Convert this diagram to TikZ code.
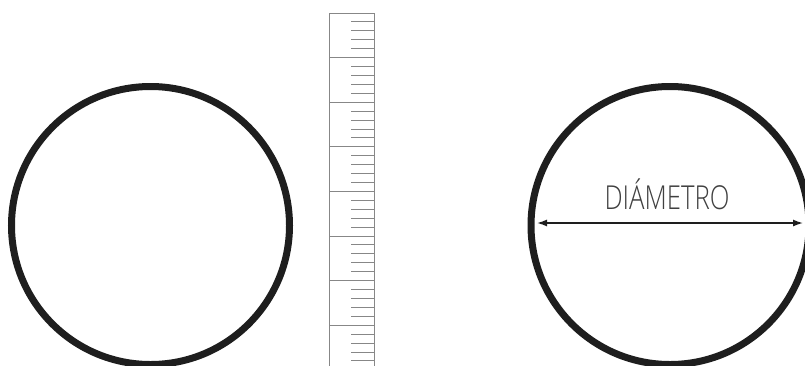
\documentclass[tikz,border=0pt]{standalone}
\usepackage{fontspec}
\newfontfamily\labelfont{Open Sans}[UprightFont=* Light]
\usepackage{tikz}
\usetikzlibrary{arrows.meta,positioning,calc}
\definecolor{rulergrey}{RGB}{135,135,135}
\definecolor{ringblack}{RGB}{30,30,30}

\begin{document}
\begin{tikzpicture}[x=1pt, y=-1pt,
    ring/.style={circle, draw=ringblack, line width=7pt, minimum size=278pt,
                 inner sep=0pt, outer sep=0pt},
    rulerline/.style={draw=rulergrey, line width=0.9pt},
    dimarr/.style={{Latex[length=10pt,width=7pt]}-{Latex[length=10pt,width=7pt]},
                   line width=1.4pt, draw=ringblack},
    lbl/.style={font=\labelfont\fontsize{33}{36}\selectfont, text=black!75,
                inner sep=0pt, anchor=base}
]
    \useasboundingbox (0,0) rectangle (805,365);
    \clip (0,0) rectangle (805,365);

    % the two rings
    \node[ring] (ringL) at (150.5,225.5) {};
    \node[ring] (ringR) at (670,225.5) {};

    % ruler
    \coordinate (rulTL) at (329,13);
    \coordinate (rulBR) at (374,372);
    \draw[rulerline] (rulBR |- rulTL) -- (rulTL) -- (rulTL |- rulBR);
    \draw[rulerline] (rulBR |- rulTL) -- (rulBR);
    \foreach \k in {0,...,7} {
        \draw[rulerline] ($(rulTL)+(0,44.6*\k)$) -- ++(45,0);
        \foreach \m in {1,...,4}
            \draw[rulerline] ($(rulTL)+(22,44.6*\k+8.92*\m)$) -- ++(23,0);
    }

    % diameter
    \coordinate (dimL) at ($(ringR.west)+(6,-2.5)$);
    \coordinate (dimR) at ($(ringR.east)+(-6,-2.5)$);
    \draw[dimarr] (dimL) -- (dimR);
    \node[lbl] (dia) at (667,209) {\scalebox{0.78}[1]{DIÁMETRO}};
\end{tikzpicture}
\end{document}
